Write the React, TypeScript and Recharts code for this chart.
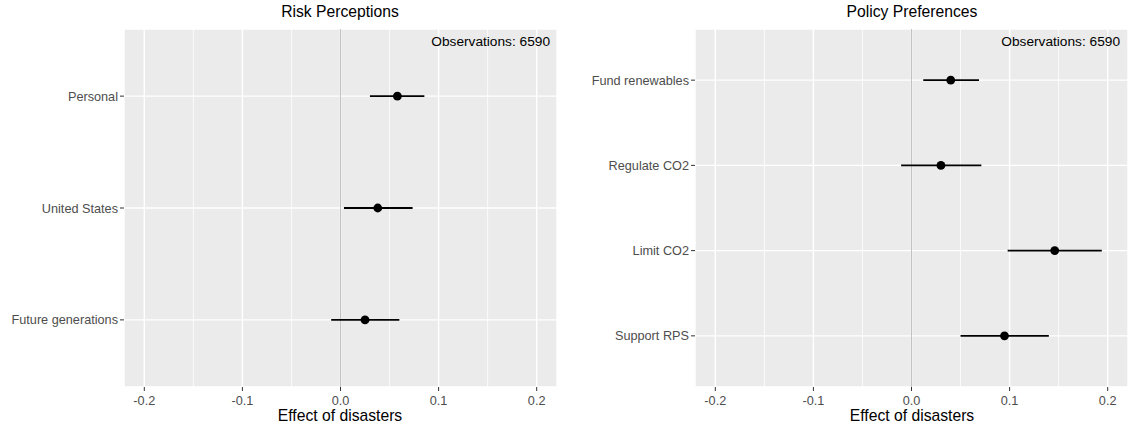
import {
  ScatterChart,
  Scatter,
  XAxis,
  YAxis,
  CartesianGrid,
  ErrorBar,
  ReferenceLine,
} from "recharts";

// Risk perceptions panel
const riskLabels = ["Personal", "United States", "Future generations"];
const riskEst = [0.058, 0.038, 0.025];
const riskLow = [0.03, 0.0035, -0.0095];
const riskHigh = [0.0855, 0.0735, 0.06];

// Policy preferences panel
const policyLabels = ["Fund renewables", "Regulate CO2", "Limit CO2", "Support RPS"];
const policyEst = [0.04, 0.03, 0.146, 0.0948];
const policyLow = [0.012, -0.0106, 0.098, 0.05];
const policyHigh = [0.0688, 0.0712, 0.194, 0.14];

const xTicks = [-0.2, -0.1, 0, 0.1, 0.2];
const xMinor = [-0.15, -0.05, 0.05, 0.15];
const xDomain = [-0.2207, 0.2207];

const observations = 6590;

const FONT = '"Liberation Sans", Arial, Helvetica, sans-serif';

function buildRows(labels: string[], est: number[], low: number[], high: number[]) {
  return labels.map((label, i) => ({
    label,
    pos: labels.length - i,
    est: est[i],
    err: [est[i] - low[i], high[i] - est[i]],
  }));
}

const Dot = (props: any) => (
  <circle cx={props.cx} cy={props.cy} r={4.4} fill="#000000" />
);

interface PanelProps {
  labels: string[];
  est: number[];
  low: number[];
  high: number[];
  width: number;
  yAxisWidth: number;
  marginRight: number;
}

function Panel({ labels, est, low, high, width, yAxisWidth, marginRight }: PanelProps) {
  const rows = buildRows(labels, est, low, high);
  const n = labels.length;
  const yTicks = labels.map((_, i) => i + 1);
  return (
    <ScatterChart
      width={width}
      height={433}
      margin={{ top: 29, right: marginRight, bottom: 0, left: 0 }}
      style={{ fontFamily: FONT }}
    >
      <CartesianGrid fill="#EBEBEB" stroke="#FFFFFF" strokeWidth={1.4} />
      {xMinor.map((v) => (
        <ReferenceLine key={v} x={v} stroke="#FFFFFF" strokeWidth={0.8} />
      ))}
      <ReferenceLine x={0} stroke="#C2C2C2" strokeWidth={1} />
      <XAxis
        type="number"
        dataKey="est"
        domain={xDomain}
        ticks={xTicks}
        interval={0}
        allowDataOverflow
        tickFormatter={(v: number) => v.toFixed(1)}
        height={46}
        axisLine={false}
        tickLine={{ stroke: "#333333" }}
        tickSize={4}
        tickMargin={5}
        tick={{ fill: "#4D4D4D", fontSize: 12.7 }}
      />
      <YAxis
        type="number"
        dataKey="pos"
        domain={[0.4, n + 0.6]}
        ticks={yTicks}
        interval={0}
        allowDataOverflow
        tickFormatter={(v: number) => labels[n - v]}
        width={yAxisWidth}
        axisLine={false}
        tickLine={{ stroke: "#333333" }}
        tickSize={4}
        tickMargin={2}
        tick={{ fill: "#4D4D4D", fontSize: 12.7 }}
      />
      <Scatter data={rows} isAnimationActive={false} shape={Dot}>
        <ErrorBar
          dataKey="err"
          direction="x"
          width={0}
          stroke="#000000"
          strokeWidth={1.8}
          isAnimationActive={false}
        />
      </Scatter>
    </ScatterChart>
  );
}

const titleStyle = {
  position: "absolute" as const,
  fontSize: 15.7,
  lineHeight: "16px",
  color: "#000",
  textAlign: "center" as const,
  whiteSpace: "nowrap" as const,
};

const obsStyle = {
  position: "absolute" as const,
  top: 35,
  fontSize: 13.7,
  lineHeight: "14px",
  color: "#000",
  textAlign: "right" as const,
  whiteSpace: "nowrap" as const,
};

export default function App() {
  return (
    <div
      style={{
        position: "absolute",
        left: 0,
        top: 0,
        width: 1129,
        height: 433,
        background: "#FFFFFF",
        fontFamily: FONT,
        overflow: "hidden",
      }}
    >
      <div style={{ position: "absolute", left: 0, top: 0 }}>
        <Panel
          labels={riskLabels}
          est={riskEst}
          low={riskLow}
          high={riskHigh}
          width={560}
          yAxisWidth={124}
          marginRight={3}
        />
      </div>
      <div style={{ position: "absolute", left: 565, top: 0 }}>
        <Panel
          labels={policyLabels}
          est={policyEst}
          low={policyLow}
          high={policyHigh}
          width={564}
          yAxisWidth={130}
          marginRight={1}
        />
      </div>

      <div style={{ ...titleStyle, left: 240, width: 200, top: 4 }}>Risk Perceptions</div>
      <div style={{ ...titleStyle, left: 812, width: 200, top: 4 }}>Policy Preferences</div>

      <div style={{ ...obsStyle, left: 352, width: 198 }}>Observations: {observations}</div>
      <div style={{ ...obsStyle, left: 920, width: 200 }}>Observations: {observations}</div>

      <div style={{ ...titleStyle, left: 240, width: 200, top: 408 }}>Effect of disasters</div>
      <div style={{ ...titleStyle, left: 812, width: 200, top: 408 }}>Effect of disasters</div>
    </div>
  );
}
